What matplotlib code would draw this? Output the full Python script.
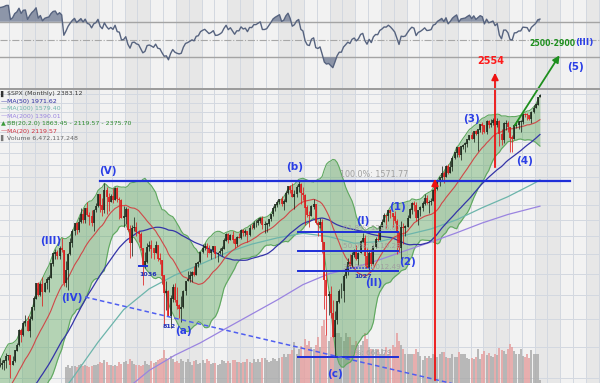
import numpy as np
import pandas as pd
import matplotlib
matplotlib.use("Agg")
import matplotlib.pyplot as plt
from matplotlib.patches import FancyArrowPatch
from matplotlib.ticker import NullLocator
from matplotlib.transforms import blended_transform_factory

W, H = 600, 383

# S&P 500 monthly closes, Jan 1993 .. Mar 2017
CLOSE = [
    438.78, 443.38, 451.67, 440.19, 450.19, 450.53, 448.13, 463.56, 458.93, 467.83, 461.79, 466.45,
    481.61, 467.14, 445.77, 450.91, 456.50, 444.27, 458.26, 475.49, 462.69, 472.35, 453.69, 459.27,
    470.42, 487.39, 500.71, 514.71, 533.40, 544.75, 562.06, 561.88, 584.41, 581.50, 605.37, 615.93,
    636.02, 640.43, 645.50, 654.17, 669.12, 670.63, 639.95, 651.99, 687.31, 705.27, 757.02, 740.74,
    786.16, 790.82, 757.12, 801.34, 848.28, 885.14, 954.29, 899.47, 947.28, 914.62, 955.40, 970.43,
    980.28, 1049.34, 1101.75, 1111.75, 1090.82, 1133.84, 1120.67, 957.28, 1017.01, 1098.67, 1163.63, 1229.23,
    1279.64, 1238.33, 1286.37, 1335.18, 1301.84, 1372.71, 1328.72, 1320.41, 1282.71, 1362.93, 1388.91, 1469.25,
    1394.46, 1366.42, 1498.58, 1452.43, 1420.60, 1454.60, 1430.83, 1517.68, 1436.51, 1429.40, 1314.95, 1320.28,
    1366.01, 1239.94, 1160.33, 1249.46, 1255.82, 1224.42, 1211.23, 1133.58, 1040.94, 1059.78, 1139.45, 1148.08,
    1130.20, 1106.73, 1147.39, 1076.92, 1067.14, 989.82, 911.62, 916.07, 815.28, 885.76, 936.31, 879.82,
    855.70, 841.15, 848.18, 916.92, 963.59, 974.50, 990.31, 1008.01, 995.97, 1050.71, 1058.20, 1111.92,
    1131.13, 1144.94, 1126.21, 1107.30, 1120.68, 1140.84, 1101.72, 1104.24, 1114.58, 1130.20, 1173.82, 1211.92,
    1181.27, 1203.60, 1180.59, 1156.85, 1191.50, 1191.33, 1234.18, 1220.33, 1228.81, 1207.01, 1249.48, 1248.29,
    1280.08, 1280.66, 1294.83, 1310.61, 1270.09, 1270.20, 1276.66, 1303.82, 1335.85, 1377.94, 1400.63, 1418.30,
    1438.24, 1406.82, 1420.86, 1482.37, 1530.62, 1503.35, 1455.27, 1473.99, 1526.75, 1549.38, 1481.14, 1468.36,
    1378.55, 1330.63, 1322.70, 1385.59, 1400.38, 1280.00, 1267.38, 1282.83, 1166.36, 968.75, 896.24, 903.25,
    825.88, 735.09, 797.87, 872.81, 919.14, 919.32, 987.48, 1020.62, 1057.08, 1036.19, 1095.63, 1115.10,
    1073.87, 1104.49, 1169.43, 1186.69, 1089.41, 1030.71, 1101.60, 1049.33, 1141.20, 1183.26, 1180.55, 1257.64,
    1286.12, 1327.22, 1325.83, 1363.61, 1345.20, 1320.64, 1292.28, 1218.89, 1131.42, 1253.30, 1246.96, 1257.60,
    1312.41, 1365.68, 1408.47, 1397.91, 1310.33, 1362.16, 1379.32, 1406.58, 1440.67, 1412.16, 1416.18, 1426.19,
    1498.11, 1514.68, 1569.19, 1597.57, 1630.74, 1606.28, 1685.73, 1632.97, 1681.55, 1756.54, 1805.81, 1848.36,
    1782.59, 1859.45, 1872.34, 1883.95, 1923.57, 1960.23, 1930.67, 2003.37, 1972.29, 2018.05, 2067.56, 2058.90,
    1994.99, 2104.50, 2067.89, 2085.51, 2107.39, 2063.11, 2103.84, 1972.18, 1920.03, 2079.36, 2080.41, 2043.94,
    1940.24, 1932.23, 2059.74, 2065.30, 2096.95, 2098.86, 2173.60, 2170.95, 2168.27, 2126.15, 2198.81, 2238.83,
    2278.87, 2363.64, 2383.12,
]

# monthly highs / lows, Jan 1996 .. Mar 2017
HIGH = [
    636.2, 664.2, 657.0, 656.4, 680.3, 673.3, 672.7, 670.7, 690.9, 714.1, 762.1, 761.8,
    794.7, 817.7, 814.9, 812.9, 851.8, 898.7, 957.7, 961.3, 960.6, 983.1, 961.8, 986.2,
    992.7, 1051.7, 1105.7, 1130.5, 1123.4, 1145.2, 1190.6, 1121.0, 1066.1, 1103.8, 1193.0, 1244.9,
    1280.4, 1283.8, 1316.6, 1375.0, 1368.0, 1375.0, 1420.3, 1352.3, 1361.9, 1373.2, 1409.1, 1473.1,
    1478.0, 1444.6, 1552.9, 1527.2, 1481.5, 1474.6, 1517.3, 1525.2, 1530.1, 1454.8, 1438.5, 1389.2,
    1383.4, 1376.4, 1267.4, 1269.3, 1316.0, 1286.6, 1239.8, 1226.3, 1134.1, 1110.6, 1163.4, 1173.0,
    1176.6, 1130.2, 1173.9, 1147.8, 1106.6, 1070.7, 994.5, 965.0, 924.0, 900.9, 951.6, 954.3,
    935.0, 864.6, 895.9, 924.2, 965.4, 1015.3, 1015.4, 1011.0, 1040.3, 1053.8, 1063.7, 1112.6,
    1155.4, 1159.0, 1163.2, 1150.6, 1127.7, 1146.3, 1140.8, 1109.7, 1131.5, 1142.1, 1188.5, 1217.9,
    1217.9, 1212.4, 1229.1, 1191.9, 1199.6, 1219.6, 1246.0, 1245.9, 1243.1, 1233.3, 1270.6, 1275.8,
    1294.9, 1297.6, 1310.9, 1318.2, 1326.7, 1290.7, 1280.4, 1307.5, 1340.3, 1389.5, 1407.9, 1431.8,
    1441.6, 1461.6, 1438.9, 1498.0, 1535.6, 1540.6, 1555.9, 1503.9, 1538.7, 1576.1, 1552.8, 1523.6,
    1471.8, 1396.0, 1359.7, 1397.0, 1440.2, 1404.0, 1292.2, 1313.2, 1303.0, 1167.0, 1007.5, 918.9,
    943.9, 877.9, 833.0, 877.4, 930.2, 956.2, 996.7, 1039.5, 1080.2, 1101.4, 1113.7, 1130.4,
    1150.5, 1112.4, 1180.2, 1219.8, 1206.9, 1131.2, 1121.0, 1129.2, 1148.7, 1196.1, 1227.1, 1262.6,
    1302.7, 1344.1, 1332.3, 1366.6, 1370.6, 1345.2, 1356.5, 1307.4, 1229.3, 1292.7, 1277.6, 1269.4,
    1333.5, 1378.0, 1419.2, 1422.4, 1415.3, 1363.5, 1391.7, 1426.7, 1474.5, 1470.0, 1434.3, 1448.0,
    1509.9, 1530.9, 1570.3, 1597.6, 1687.2, 1654.2, 1698.8, 1709.7, 1730.0, 1775.2, 1813.6, 1849.4,
    1850.8, 1867.9, 1884.0, 1897.3, 1924.0, 1968.2, 1991.4, 2005.0, 2019.3, 2018.2, 2075.8, 2093.6,
    2064.4, 2119.6, 2117.5, 2125.9, 2134.7, 2129.9, 2132.8, 2112.7, 2020.9, 2094.3, 2116.5, 2104.3,
    2038.2, 1963.0, 2072.2, 2111.1, 2103.5, 2120.6, 2177.1, 2193.8, 2187.9, 2169.6, 2214.1, 2277.5,
    2301.0, 2371.5, 2401.0,
]
LOW = [
    597.3, 633.7, 627.6, 624.3, 630.1, 656.6, 600.7, 639.6, 649.9, 684.8, 703.1, 716.7,
    737.0, 773.4, 756.1, 733.5, 798.2, 837.1, 882.0, 898.8, 896.9, 855.3, 912.9, 926.2,
    912.8, 979.9, 1039.3, 1076.7, 1074.4, 1074.4, 1112.4, 940.0, 939.4, 923.3, 1096.7, 1136.9,
    1205.5, 1211.9, 1226.2, 1282.6, 1281.1, 1281.4, 1328.2, 1268.4, 1263.9, 1233.7, 1348.6, 1387.4,
    1350.1, 1325.1, 1346.6, 1339.4, 1361.1, 1420.6, 1413.9, 1430.8, 1419.4, 1305.8, 1312.2, 1254.1,
    1274.6, 1228.9, 1081.2, 1091.9, 1232.0, 1203.0, 1165.5, 1124.9, 944.8, 1026.8, 1054.3, 1114.9,
    1081.7, 1074.4, 1106.7, 1063.5, 1048.9, 952.9, 775.7, 837.7, 815.3, 768.6, 872.1, 872.0,
    840.3, 806.3, 788.9, 847.9, 902.8, 963.6, 962.1, 960.8, 990.4, 995.9, 1031.2, 1053.4,
    1105.1, 1124.4, 1087.2, 1107.2, 1076.3, 1113.3, 1078.8, 1060.7, 1101.2, 1090.2, 1127.6, 1173.8,
    1163.8, 1180.9, 1163.7, 1136.2, 1146.2, 1188.3, 1183.6, 1201.1, 1201.1, 1168.2, 1201.1, 1246.6,
    1245.7, 1253.6, 1268.4, 1280.7, 1245.3, 1219.3, 1224.5, 1261.5, 1291.6, 1327.1, 1361.0, 1385.9,
    1404.0, 1389.4, 1364.0, 1416.4, 1476.7, 1484.2, 1454.3, 1370.6, 1452.9, 1489.6, 1406.1, 1435.7,
    1270.0, 1316.8, 1257.0, 1324.4, 1373.1, 1272.0, 1200.4, 1247.5, 1106.4, 839.8, 741.0, 815.7,
    804.3, 735.1, 666.8, 783.3, 866.1, 888.9, 869.3, 978.5, 992.0, 1029.4, 1033.4, 1085.9,
    1071.6, 1044.5, 1105.4, 1170.7, 1040.8, 1028.3, 1010.9, 1039.7, 1041.2, 1131.9, 1173.0, 1186.6,
    1257.6, 1289.1, 1249.1, 1294.7, 1311.8, 1258.1, 1282.9, 1101.5, 1114.2, 1074.8, 1158.7, 1202.4,
    1258.9, 1312.4, 1340.0, 1357.4, 1291.0, 1266.7, 1325.4, 1354.7, 1396.6, 1403.3, 1343.4, 1398.1,
    1426.2, 1485.0, 1501.5, 1536.0, 1581.3, 1560.3, 1604.6, 1627.5, 1633.4, 1646.5, 1746.2, 1768.0,
    1770.5, 1737.9, 1834.4, 1814.4, 1859.8, 1916.0, 1930.7, 1904.8, 1964.0, 1820.7, 2001.0, 1972.6,
    1988.1, 1980.9, 2039.7, 2048.4, 2067.9, 2056.3, 2044.0, 1867.0, 1871.9, 1893.7, 2019.4, 1993.3,
    1812.3, 1810.1, 1937.1, 2033.8, 2025.9, 1991.7, 2074.0, 2147.6, 2119.1, 2114.7, 2083.8, 2187.4,
    2245.1, 2271.7, 2363.6,
]

# monthly volume in billions of shares, Sep 1998 .. Mar 2017
VOLUME = [
    38, 42, 36, 40,
    40, 38, 44, 46, 40, 42, 40, 38, 40, 44, 42, 46,
    50, 48, 54, 50, 44, 42, 40, 42, 40, 50, 46, 50,
    52, 46, 56, 52, 46, 44, 42, 40, 44, 52, 46, 44,
    52, 48, 50, 54, 56, 60, 78, 60, 56, 64, 56, 50,
    52, 48, 56, 52, 50, 56, 50, 44, 52, 54, 46, 48,
    54, 48, 58, 52, 46, 48, 48, 44, 46, 54, 52, 48,
    52, 48, 54, 54, 50, 50, 48, 50, 50, 56, 50, 48,
    56, 50, 58, 50, 60, 60, 54, 50, 52, 60, 58, 52,
    60, 62, 70, 62, 68, 70, 78, 98, 70, 80, 88, 64,
    105, 90, 100, 85, 80, 90, 110, 85, 135, 150, 115, 100,
    110, 115, 130, 120, 120, 110, 100, 120, 110, 110, 90, 90,
    100, 90, 90, 100, 120, 105, 85, 80, 80, 80, 80, 70,
    80, 70, 85, 70, 80, 90, 85, 120, 100, 90, 80, 70,
    70, 70, 70, 70, 80, 75, 65, 55, 65, 60, 65, 60,
    68, 66, 62, 68, 75, 75, 62, 60, 60, 68, 62, 62,
    74, 68, 70, 70, 60, 58, 60, 56, 62, 80, 58, 70,
    76, 66, 72, 64, 62, 68, 66, 84, 78, 76, 70, 80,
    94, 86, 76, 68, 70, 82, 64, 62, 68, 60, 78, 68,
    70, 68, 6.47,
]

# long moving averages (months after Jan 1996, value)
MA100_T = [23, 35, 47, 59, 71, 83, 95, 107, 119, 131, 143, 155, 167, 179, 191, 203, 215, 227, 239, 251, 254]
MA100_V = [509, 600, 716, 839, 929, 993, 1047, 1107, 1155, 1191, 1218, 1199, 1160, 1170, 1207,
           1244, 1301, 1380, 1456, 1552, 1579.40]
MA200_T = [47, 59, 71, 83, 95, 107, 119, 131, 143, 155, 167, 179, 191, 203, 215, 227, 239, 251, 254]
MA200_V = [487, 563, 624, 672, 714, 766, 821, 880, 948, 999, 1030, 1071, 1119, 1167, 1221, 1281,
           1335, 1379, 1390.01]

FIB_HIGH = 1571.77
FIB_LOW = 666.79
FIB_PCT = [61.8, 50.0, 38.2, 0.0]

LEGEND = [
    ("\u258c", "#333333", "$SPX (Monthly) 2383.12", "#3a3a3a"),
    ("\u2014", "#2c2ca0", "MA(50) 1971.62", "#2c2ca0"),
    ("\u2014", "#6cb5ab", "MA(100) 1579.40", "#6cb5ab"),
    ("\u2014", "#9a84e0", "MA(200) 1390.01", "#9a84e0"),
    ("\u25b2", "#3a9a3a", "BB(20,2.0) 1863.45 - 2119.57 - 2375.70", "#2e8b2e"),
    ("\u2014", "#d0303e", "MA(20) 2119.57", "#d0303e"),
    ("\u258c", "#777777", "Volume 6,472,117,248", "#666666"),
]

# ---- indicators
close = pd.Series(CLOSE, dtype=float)
t_all = np.arange(len(CLOSE)) - 36
ma20 = close.rolling(20).mean()
sd20 = close.rolling(20).std(ddof=0)
bb_up = ma20 + 2 * sd20
bb_lo = ma20 - 2 * sd20
ma50 = close.rolling(50).mean()
diff = close.diff()
gain = diff.clip(lower=0).ewm(alpha=1 / 14, adjust=False).mean()
loss = (-diff.clip(upper=0)).ewm(alpha=1 / 14, adjust=False).mean()
rsi = 100 - 100 / (1 + gain / loss)

c = np.array(CLOSE[36:])
o = np.array(CLOSE[35:-1])
hi = np.maximum(np.array(HIGH), np.maximum(o, c))
lo = np.minimum(np.array(LOW), np.minimum(o, c))
tc = np.arange(len(c))
down = c < o

# ---- geometry
PX_PER_MONTH = 2.135
T0 = 1.1
T1 = T0 + W / PX_PER_MONTH
LN_PX = 205.0  # pixels per natural-log unit


def price_at(ypx):
    return FIB_HIGH * np.exp((181 - ypx) / LN_PX)


def tx(xpx):
    return T0 + xpx / PX_PER_MONTH


RSI_H = 88
MAIN_TOP = 89

fig = plt.figure(figsize=(6.0, 3.83), dpi=100)
fig.patch.set_facecolor("#f2f2f2")
ax_r = fig.add_axes([0, 1 - RSI_H / H, 1, RSI_H / H])
ax = fig.add_axes([0, 0, 1, (H - MAIN_TOP) / H])
ax.set_yscale("log")

for a in (ax_r, ax):
    a.set_facecolor("#f2f2f2")
    a.set_xlim(T0, T1)
    for s in a.spines.values():
        s.set_visible(False)
    a.xaxis.set_major_locator(NullLocator())
    a.xaxis.set_minor_locator(NullLocator())
    a.yaxis.set_major_locator(NullLocator())
    a.yaxis.set_minor_locator(NullLocator())
    a.tick_params(which="both", left=False, bottom=False, labelleft=False, labelbottom=False)
    for yr in range(1996, 2020):
        if yr % 2 == 1:
            s0 = (yr - 1996) * 12 - 0.5
            a.axvspan(s0, s0 + 12, color="#e7e7e7", zorder=0, lw=0)
    for g in range(0, 290, 6):
        a.axvline(g - 0.5, color="#d3d8e0", lw=0.7, zorder=0.2)

# ---- RSI panel
ax_r.set_ylim(-4.5, 94.4)
tr = t_all[33:]
rv = rsi.values[33:]
ax_r.axhline(70, color="#a4a4a4", lw=1.0, zorder=1)
ax_r.axhline(30, color="#a4a4a4", lw=1.0, zorder=1)
ax_r.axhline(50, color="#a8a8a8", lw=0.8, ls="-.", zorder=1)
ax_r.fill_between(tr, 70, rv, where=rv > 70, interpolate=True, color="#7c869c", alpha=0.85, lw=0, zorder=2)
ax_r.fill_between(tr, 30, rv, where=rv < 30, interpolate=True, color="#7c869c", alpha=0.85, lw=0, zorder=2)
ax_r.plot(tr, rv, color="#56637f", lw=1.0, zorder=3)

# ---- main panel
ax.set_ylim(price_at(H), price_at(MAIN_TOP))
ax.set_xlim(T0, T1)
for p in range(600, 2500, 100):
    ax.axhline(p, color="#d3d8e0", lw=0.7, zorder=0.2)

# volume overlay
blend = blended_transform_factory(ax.transData, ax.transAxes)
tv = np.arange(32, 32 + len(VOLUME))
vol = np.array(VOLUME)
vdown = c[tv] < o[tv]
vh = vol * 0.42 / (H - MAIN_TOP)
ax.vlines(tv[~vdown], 0, vh[~vdown], transform=blend, colors="#a9a9a9", lw=1.25, alpha=0.9, zorder=0.5)
ax.vlines(tv[vdown], 0, vh[vdown], transform=blend, colors="#e59c9c", lw=1.25, alpha=0.9, zorder=0.5)

# Bollinger bands
ax.fill_between(t_all, bb_lo, bb_up, color="#4aa04a", alpha=0.37, lw=0, zorder=1)
ax.plot(t_all, bb_up, color="#5fa85f", lw=0.8, zorder=1.2)
ax.plot(t_all, bb_lo, color="#5fa85f", lw=0.8, zorder=1.2)

# moving averages
ax.plot(MA200_T, MA200_V, color="#9a84e0", lw=0.9, zorder=2)
ax.plot(MA100_T, MA100_V, color="#6cb5ab", lw=0.9, zorder=2)
ax.plot(t_all, ma50, color="#3434a8", lw=0.9, zorder=2)
ax.plot(t_all, ma20, color="#d04848", lw=0.8, zorder=2)

# candles
for mask, col in ((~down, "#1e2a1e"), (down, "#dd1c1c")):
    ax.vlines(tc[mask], lo[mask], hi[mask], colors=col, lw=0.55, zorder=3)
    ax.vlines(tc[mask], np.minimum(o, c)[mask], np.maximum(o, c)[mask] * 1.002, colors=col, lw=1.2, zorder=3.1)

# wave lines
BLUE = "#1f2fd8"
ax.plot([tx(100), tx(570)], [FIB_HIGH, FIB_HIGH], color=BLUE, lw=1.6, zorder=4)
for pct in FIB_PCT:
    lvl = FIB_LOW + pct / 100 * (FIB_HIGH - FIB_LOW)
    ax.plot([tx(298), tx(398)], [lvl, lvl], color=BLUE, lw=1.4, zorder=4)
    ax.text(tx(343), lvl * 1.006, f"{pct:.1f}%: {lvl:.2f}", fontsize=5.2, color="#a0a0a0",
            va="bottom", ha="left", zorder=4)
ax.text(tx(340), FIB_HIGH * 1.008, f"100.0%: {FIB_HIGH:.2f}", fontsize=5.8, color="#a0a0a0",
        va="bottom", ha="left", zorder=4)
ax.plot([tx(85), tx(452)], [price_at(297), price_at(383.5)], color="#4f5ef0", lw=1.1,
        ls=(0, (3, 2)), zorder=4)
ax.plot([tx(347), tx(372)], [1027, 1027], color=BLUE, lw=1.1, ls=(0, (1, 1)), zorder=4)
ax.plot([tx(139), tx(147)], [1036, 1036], color=BLUE, lw=1.4, zorder=4)


def fxy(x, y):
    return x / W, 1 - y / H


def label(x, y, s, size=7.5, color="#2b3fe6", weight="bold"):
    fig.text(*fxy(x, y), s, fontsize=size, color=color, fontweight=weight, ha="center", va="center")


for x, y, s in [(108, 171, "(V)"), (51, 241, "(III)"), (72, 298, "(IV)"), (183, 331, "(a)"),
                (295, 167, "(b)"), (335, 374, "(c)"), (363, 221, "(I)"), (374, 283, "(II)"),
                (397, 207, "(1)"), (407, 262, "(2)"), (472, 119, "(3)"), (525, 161, "(4)"),
                (576, 67, "(5)")]:
    label(x, y, s)
for x, y, s in [(148, 274, "1036"), (169, 326, "812"), (363, 276, "1027")]:
    label(x, y, s, size=4.6, color="#2233bb")
label(491, 61, "2554", size=7.0, color="#ff1a1a")
label(552, 43, "2500-2900", size=5.6, color="#1e8f1e")
label(584, 43, "(III)", size=6.4)


def arrow(x1, y1, x2, y2, col, lw=1.3):
    fig.add_artist(FancyArrowPatch(fxy(x1, y1), fxy(x2, y2), transform=fig.transFigure,
                                   arrowstyle="-|>", mutation_scale=10, color=col, lw=lw))


arrow(435, 383, 435, 176, "#ee1111")
arrow(495, 170, 495, 70, "#ee1111")
arrow(513, 128, 561, 53, "#1e8f1e")

# panel separator
fig.add_artist(plt.Line2D([0, 1], [1 - 89 / H] * 2, transform=fig.transFigure, color="#9a9a9a", lw=1.4))

# legend
for i, (icon, icol, txt, tcol) in enumerate(LEGEND):
    y = 94 + i * 7.4
    fig.text(*fxy(0.5, y), icon, fontsize=4.5, color=icol, ha="left", va="center")
    fig.text(*fxy(7, y), txt, fontsize=4.5, color=tcol, ha="left", va="center")

fig.savefig("out.png", dpi=100, facecolor=fig.get_facecolor())
